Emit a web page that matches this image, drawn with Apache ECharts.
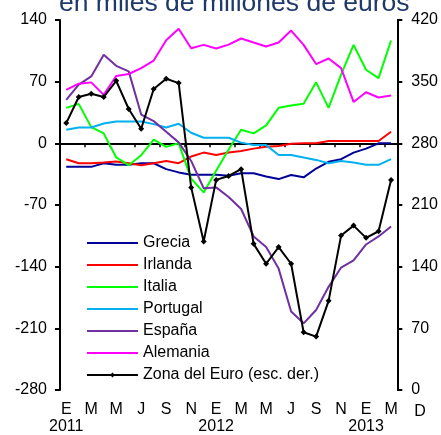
<!DOCTYPE html>
<html><head><meta charset="utf-8">
<script src="https://cdn.jsdelivr.net/npm/echarts@6/dist/echarts.min.js"></script>
<style>html,body{margin:0;padding:0;background:#fff}#c{width:441px;height:435px}</style>
</head><body><div id="c"></div>
<script>
const months = ['E','F','M','A','M','J','J','A','S','O','N','D','E','F','M','A','M','J','J','A','S','O','N','D','E','F','M'];
const yearLabels = {0:'2011', 12:'2012', 24:'2013'};
const extraLabel = 'D';
const titleText = 'en miles de millones de euros';

const grecia   = [-26.7,-26.7,-26.7,-22.6,-24.4,-24.4,-22.6,-22.6,-29.3,-33,-35.7,-35.7,-35.7,-36.8,-33.9,-33.9,-37.6,-40.6,-36,-38.6,-28.6,-21,-18,-10.5,-6,0,0];
const irlanda  = [-18,-22.6,-22.6,-21.8,-20.7,-22.6,-24.8,-22.6,-20,-22.6,-15,-10.5,-13.2,-10.5,-8.7,-6,-3.8,-3,-0.4,0,0,2.6,2.6,2.6,2.6,2.6,13.2];
const italia   = [40.3,44.8,18.4,11.3,-16,-24.8,-13.5,4.1,-4,0,-40,-55.7,-31,-7,15.4,11.3,20.3,40.3,43,44.8,69.2,40.3,78,111.8,83.5,74,116.7];
const portugal = [15.4,18,18,22.6,24.8,24.8,24.8,21.8,18,22.2,12,6.4,6.4,6.4,0.8,-1.9,-2,-13.2,-13.2,-16,-18.8,-22.6,-20,-21.8,-24.4,-24.4,-18];
const espana   = [49.3,66.6,76,100.5,88,81.7,32.7,25.2,13.2,1.1,-20,-51,-50,-61,-74.5,-105.7,-117.8,-142.2,-191,-204.3,-189.2,-162.9,-141,-132.8,-114.8,-105.7,-94.4];
const alemania = [60.6,67.7,69.2,55,76.4,78.7,85.4,94,117,130,108,111.8,107.6,112,119,114.4,110,114.4,128,111.8,90,96.3,85.4,47,58,52,54.2];
const euro     = [303,332.6,336.3,332.6,351,319,296.5,341.6,353.3,348.4,230,168.5,238.5,243,250.6,165.9,143.3,162.2,143.3,65.5,60.6,101.2,175.3,186.6,172.7,180.2,238.5];

const FONT = 'Liberation Sans, Arial, sans-serif';
const chart = echarts.init(document.getElementById('c'), null, {renderer:'canvas'});

function lineSeries(name, data, color) {
  return {name, type:'line', data, xAxisIndex:0, yAxisIndex:0, symbol:'none',
    lineStyle:{color, width:2}, itemStyle:{color}, animation:false};
}
const hideSym = {opacity:0, color:'rgba(0,0,0,0)', borderColor:'rgba(0,0,0,0)', borderWidth:0};

chart.setOption({
  animation:false,
  textStyle:{fontFamily:FONT},
  grid:{left:60, right:43.5, top:20, bottom:43, containLabel:false},
  legend:{
    orient:'vertical', left:86, top:235, padding:0, itemWidth:51, itemHeight:6, itemGap:6,
    textStyle:{fontSize:16, color:'#000', lineHeight:16, fontFamily:FONT},
    data:[
      {name:'Grecia', itemStyle:hideSym},
      {name:'Irlanda', itemStyle:hideSym},
      {name:'Italia', itemStyle:hideSym},
      {name:'Portugal', itemStyle:hideSym},
      {name:'España', itemStyle:hideSym},
      {name:'Alemania', itemStyle:hideSym},
      {name:'Zona del Euro (esc. der.)'}
    ]
  },
  xAxis:[
    {type:'category', data:months, boundaryGap:true, position:'bottom',
     axisLine:{onZero:true, lineStyle:{color:'#000', width:2}},
     axisTick:{show:true, interval:1, length:4, lineStyle:{color:'#000', width:1.5}},
     axisLabel:{show:false}, splitLine:{show:false}},
    {type:'category', data:months, boundaryGap:true, position:'bottom',
     axisLine:{show:false}, axisTick:{show:false}, splitLine:{show:false},
     axisLabel:{interval:1, fontSize:16, color:'#000', lineHeight:17, margin:11, fontFamily:FONT,
       formatter:(v,i)=> yearLabels[i] ? v+'\n'+yearLabels[i] : v}}
  ],
  yAxis:[
    {type:'value', min:-280, max:140, interval:70, position:'left',
     axisLine:{show:true, onZero:false, lineStyle:{color:'#000', width:2}},
     axisTick:{show:true, length:5, lineStyle:{color:'#000', width:2}},
     axisLabel:{fontSize:16, color:'#000', margin:13, fontFamily:FONT},
     splitLine:{show:false}},
    {type:'value', min:0, max:420, interval:70, position:'right',
     axisLine:{show:true, onZero:false, lineStyle:{color:'#000', width:2}},
     axisTick:{show:true, length:5, lineStyle:{color:'#000', width:2}},
     axisLabel:{fontSize:16, color:'#000', margin:14, fontFamily:FONT},
     splitLine:{show:false}}
  ],
  graphic:[
    {type:'text', left:59, top:-10, silent:true,
     style:{text:titleText, fontSize:26.5, fontFamily:FONT, fill:'#1F3A6A'}},
    {type:'text', x:420, y:411.5, silent:true,
     style:{text:extraLabel, fontSize:16, fontFamily:FONT, fill:'#000', align:'center', verticalAlign:'middle'}}
  ],
  series:[
    lineSeries('Grecia', grecia, '#000099'),
    lineSeries('Irlanda', irlanda, '#FF0000'),
    lineSeries('Italia', italia, '#00FF00'),
    lineSeries('Portugal', portugal, '#00B0F0'),
    lineSeries('España', espana, '#7030A0'),
    lineSeries('Alemania', alemania, '#FF00FF'),
    {name:'Zona del Euro (esc. der.)', type:'line', data:euro, xAxisIndex:0, yAxisIndex:1,
     symbol:'diamond', symbolSize:6, showSymbol:true,
     lineStyle:{color:'#000', width:2}, itemStyle:{color:'#000'}, animation:false, z:3}
  ]
});
</script></body></html>
